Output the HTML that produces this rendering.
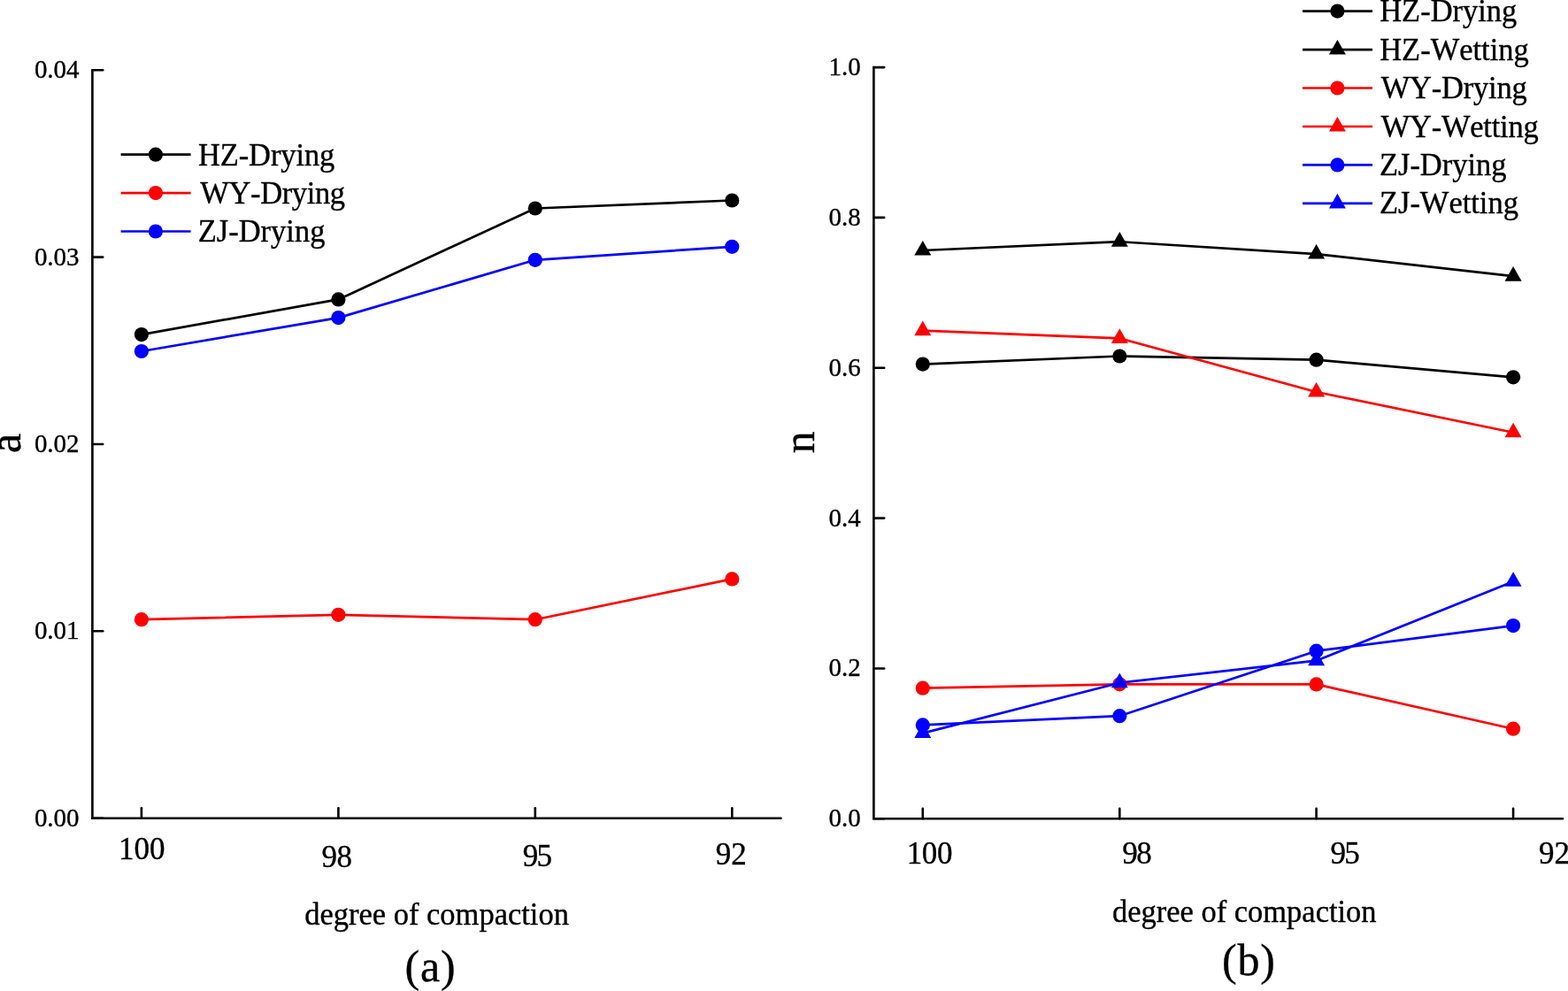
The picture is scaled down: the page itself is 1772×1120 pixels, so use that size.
<!DOCTYPE html><html><head><meta charset="utf-8"><style>html,body{margin:0;padding:0;background:#fff;overflow:hidden}svg{display:block}text{font-kerning:none}</style></head><body>
<svg width="1772" height="1120" viewBox="0 0 1772 1120">
<rect width="1772" height="1120" fill="#fff"/>
<g stroke="#000" stroke-width="2.6" stroke-linecap="round" fill="none">
<path d="M104.4,79.2 V924.7 H882.5"/>
<path d="M104.4,924.7 h11.8"/>
<path d="M104.4,713.3 h11.8"/>
<path d="M104.4,502.0 h11.8"/>
<path d="M104.4,290.6 h11.8"/>
<path d="M104.4,79.2 h11.8"/>
<path d="M159.9,924.7 v-11.4"/>
<path d="M382.4,924.7 v-11.4"/>
<path d="M604.8,924.7 v-11.4"/>
<path d="M827.3,924.7 v-11.4"/>
</g>
<g font-family="Liberation Serif, Times New Roman, serif" fill="#000" stroke="#000" stroke-width="0.35">
<g font-size="29" text-anchor="end">
<text transform="translate(89.6,933.6) scale(1,1.045)">0.00</text>
<text transform="translate(89.6,722.2) scale(1,1.045)">0.01</text>
<text transform="translate(89.6,510.9) scale(1,1.045)">0.02</text>
<text transform="translate(89.6,299.5) scale(1,1.045)">0.03</text>
<text transform="translate(89.6,88.1) scale(1,1.045)">0.04</text>
</g>
<text transform="translate(133.96,971.30) scale(1,1.045)" font-size="35">100</text>
<text transform="translate(363.60,979.60) scale(1,1.045)" font-size="35" textLength="34.40" lengthAdjust="spacing">98</text>
<text transform="translate(590.70,979.20) scale(1,1.045)" font-size="35" textLength="33.40" lengthAdjust="spacing">95</text>
<text transform="translate(808.80,977.30) scale(1,1.045)" font-size="35">92</text>
<text transform="translate(344.20,1045.00) scale(1,1.045)" font-size="34.5">degree of compaction</text>
<text transform="translate(457.60,1109.40) scale(1,1.0)" font-size="50" textLength="57.00" lengthAdjust="spacing">(a)</text>
<text transform="translate(224.00,186.50) scale(1,1.045)" font-size="34.5" textLength="154.32" lengthAdjust="spacing">HZ-Drying</text>
<text transform="translate(226.25,229.60) scale(1,1.045)" font-size="34.5" textLength="163.87" lengthAdjust="spacing">WY-Drying</text>
<text transform="translate(223.75,273.10) scale(1,1.045)" font-size="34.5">ZJ-Drying</text>
<text font-size="50" text-anchor="middle" transform="translate(23.1,500.8) rotate(-90)">a</text>
</g>
<polyline points="159.9,378.1 382.4,338.4 604.8,235.5 827.3,226.5" fill="none" stroke="#000" stroke-width="2.7" stroke-linejoin="round"/><circle cx="159.9" cy="378.1" r="8.1" fill="#000"/><circle cx="382.4" cy="338.4" r="8.1" fill="#000"/><circle cx="604.8" cy="235.5" r="8.1" fill="#000"/><circle cx="827.3" cy="226.5" r="8.1" fill="#000"/>
<polyline points="159.9,700.2 382.4,694.8 604.8,700.2 827.3,654.4" fill="none" stroke="#ff0000" stroke-width="2.7" stroke-linejoin="round"/><circle cx="159.9" cy="700.2" r="8.1" fill="#ff0000"/><circle cx="382.4" cy="694.8" r="8.1" fill="#ff0000"/><circle cx="604.8" cy="700.2" r="8.1" fill="#ff0000"/><circle cx="827.3" cy="654.4" r="8.1" fill="#ff0000"/>
<polyline points="159.9,397.0 382.4,359.1 604.8,293.8 827.3,278.8" fill="none" stroke="#0000ff" stroke-width="2.7" stroke-linejoin="round"/><circle cx="159.9" cy="397.0" r="8.1" fill="#0000ff"/><circle cx="382.4" cy="359.1" r="8.1" fill="#0000ff"/><circle cx="604.8" cy="293.8" r="8.1" fill="#0000ff"/><circle cx="827.3" cy="278.8" r="8.1" fill="#0000ff"/>
<line x1="136.6" y1="174.7" x2="215.6" y2="174.7" stroke="#000" stroke-width="2.7"/>
<circle cx="175.9" cy="174.7" r="8.1" fill="#000"/>
<line x1="136.6" y1="218.1" x2="215.6" y2="218.1" stroke="#ff0000" stroke-width="2.7"/>
<circle cx="175.9" cy="218.1" r="8.1" fill="#ff0000"/>
<line x1="136.6" y1="261.5" x2="215.6" y2="261.5" stroke="#0000ff" stroke-width="2.7"/>
<circle cx="175.9" cy="261.5" r="8.1" fill="#0000ff"/>
<g stroke="#000" stroke-width="2.6" stroke-linecap="round" fill="none">
<path d="M987.4,76.1 V925.3 H1766"/>
<path d="M987.4,925.3 h11.8"/>
<path d="M987.4,755.5 h11.8"/>
<path d="M987.4,585.6 h11.8"/>
<path d="M987.4,415.8 h11.8"/>
<path d="M987.4,245.9 h11.8"/>
<path d="M987.4,76.1 h11.8"/>
<path d="M1042.8,925.3 v-11.4"/>
<path d="M1265.3,925.3 v-11.4"/>
<path d="M1487.6,925.3 v-11.4"/>
<path d="M1710.1,925.3 v-11.4"/>
</g>
<g font-family="Liberation Serif, Times New Roman, serif" fill="#000" stroke="#000" stroke-width="0.35">
<g font-size="29" text-anchor="end">
<text transform="translate(972.7,934.2) scale(1,1.045)">0.0</text>
<text transform="translate(972.7,764.4) scale(1,1.045)">0.2</text>
<text transform="translate(972.7,594.5) scale(1,1.045)">0.4</text>
<text transform="translate(972.7,424.7) scale(1,1.045)">0.6</text>
<text transform="translate(972.7,254.8) scale(1,1.045)">0.8</text>
<text transform="translate(972.7,85.0) scale(1,1.045)">1.0</text>
</g>
<text transform="translate(1024.80,976.10) scale(1,1.045)" font-size="35" textLength="51.60" lengthAdjust="spacing">100</text>
<text transform="translate(1268.15,976.10) scale(1,1.045)" font-size="35" textLength="33.65" lengthAdjust="spacing">98</text>
<text transform="translate(1503.40,976.10) scale(1,1.045)" font-size="35" textLength="33.40" lengthAdjust="spacing">95</text>
<text transform="translate(1738.90,976.10) scale(1,1.045)" font-size="35">92</text>
<text transform="translate(1256.90,1041.70) scale(1,1.045)" font-size="34.5">degree of compaction</text>
<text transform="translate(1381.00,1101.80) scale(1,1.0)" font-size="50" textLength="59.91" lengthAdjust="spacing">(b)</text>
<text transform="translate(1559.20,24.40) scale(1,1.045)" font-size="34.5">HZ-Drying</text>
<text transform="translate(1559.20,67.90) scale(1,1.045)" font-size="34.5">HZ-Wetting</text>
<text transform="translate(1560.70,110.90) scale(1,1.045)" font-size="34.5" textLength="165.02" lengthAdjust="spacing">WY-Drying</text>
<text transform="translate(1560.70,154.60) scale(1,1.045)" font-size="34.5" textLength="178.01" lengthAdjust="spacing">WY-Wetting</text>
<text transform="translate(1558.90,197.80) scale(1,1.045)" font-size="34.5">ZJ-Drying</text>
<text transform="translate(1558.90,240.70) scale(1,1.045)" font-size="34.5">ZJ-Wetting</text>
<text font-size="50" text-anchor="middle" transform="translate(919.9,500.1) rotate(-90)">n</text>
</g>
<polyline points="1042.8,411.6 1265.3,402.5 1487.6,406.7 1710.1,426.3" fill="none" stroke="#000" stroke-width="2.7" stroke-linejoin="round"/><circle cx="1042.8" cy="411.6" r="8.1" fill="#000"/><circle cx="1265.3" cy="402.5" r="8.1" fill="#000"/><circle cx="1487.6" cy="406.7" r="8.1" fill="#000"/><circle cx="1710.1" cy="426.3" r="8.1" fill="#000"/>
<polyline points="1042.8,283.0 1265.3,273.2 1487.6,287.1 1710.1,312.2" fill="none" stroke="#000" stroke-width="2.7" stroke-linejoin="round"/><polygon points="1042.8,271.9 1052.3,288.5 1033.3,288.5" fill="#000"/><polygon points="1265.3,262.1 1274.8,278.7 1255.8,278.7" fill="#000"/><polygon points="1487.6,276.0 1497.1,292.6 1478.1,292.6" fill="#000"/><polygon points="1710.1,301.1 1719.6,317.7 1700.6,317.7" fill="#000"/>
<polyline points="1042.8,777.7 1265.3,773.3 1487.6,773.4 1710.1,823.7" fill="none" stroke="#ff0000" stroke-width="2.7" stroke-linejoin="round"/><circle cx="1042.8" cy="777.7" r="8.1" fill="#ff0000"/><circle cx="1265.3" cy="773.3" r="8.1" fill="#ff0000"/><circle cx="1487.6" cy="773.4" r="8.1" fill="#ff0000"/><circle cx="1710.1" cy="823.7" r="8.1" fill="#ff0000"/>
<polyline points="1042.8,373.7 1265.3,382.4 1487.6,443.0 1710.1,488.8" fill="none" stroke="#ff0000" stroke-width="2.7" stroke-linejoin="round"/><polygon points="1042.8,362.6 1052.3,379.2 1033.3,379.2" fill="#ff0000"/><polygon points="1265.3,371.3 1274.8,387.9 1255.8,387.9" fill="#ff0000"/><polygon points="1487.6,431.9 1497.1,448.5 1478.1,448.5" fill="#ff0000"/><polygon points="1710.1,477.7 1719.6,494.3 1700.6,494.3" fill="#ff0000"/>
<polyline points="1042.8,819.4 1265.3,809.2 1487.6,735.7 1710.1,707.1" fill="none" stroke="#0000ff" stroke-width="2.7" stroke-linejoin="round"/><circle cx="1042.8" cy="819.4" r="8.1" fill="#0000ff"/><circle cx="1265.3" cy="809.2" r="8.1" fill="#0000ff"/><circle cx="1487.6" cy="735.7" r="8.1" fill="#0000ff"/><circle cx="1710.1" cy="707.1" r="8.1" fill="#0000ff"/>
<polyline points="1042.8,828.6 1265.3,771.7 1487.6,746.7 1710.1,657.3" fill="none" stroke="#0000ff" stroke-width="2.7" stroke-linejoin="round"/><polygon points="1042.8,817.5 1052.3,834.1 1033.3,834.1" fill="#0000ff"/><polygon points="1265.3,760.6 1274.8,777.2 1255.8,777.2" fill="#0000ff"/><polygon points="1487.6,735.6 1497.1,752.2 1478.1,752.2" fill="#0000ff"/><polygon points="1710.1,646.2 1719.6,662.8 1700.6,662.8" fill="#0000ff"/>
<line x1="1472" y1="12.6" x2="1551" y2="12.6" stroke="#000" stroke-width="2.7"/>
<circle cx="1511.4" cy="12.6" r="8.1" fill="#000"/>
<line x1="1472" y1="56.1" x2="1551" y2="56.1" stroke="#000" stroke-width="2.7"/>
<polygon points="1511.4,45.0 1520.9,61.6 1501.9,61.6" fill="#000"/>
<line x1="1472" y1="99.5" x2="1551" y2="99.5" stroke="#ff0000" stroke-width="2.7"/>
<circle cx="1511.4" cy="99.5" r="8.1" fill="#ff0000"/>
<line x1="1472" y1="143.0" x2="1551" y2="143.0" stroke="#ff0000" stroke-width="2.7"/>
<polygon points="1511.4,131.9 1520.9,148.5 1501.9,148.5" fill="#ff0000"/>
<line x1="1472" y1="186.4" x2="1551" y2="186.4" stroke="#0000ff" stroke-width="2.7"/>
<circle cx="1511.4" cy="186.4" r="8.1" fill="#0000ff"/>
<line x1="1472" y1="229.8" x2="1551" y2="229.8" stroke="#0000ff" stroke-width="2.7"/>
<polygon points="1511.4,218.8 1520.9,235.4 1501.9,235.4" fill="#0000ff"/>
</svg></body></html>
